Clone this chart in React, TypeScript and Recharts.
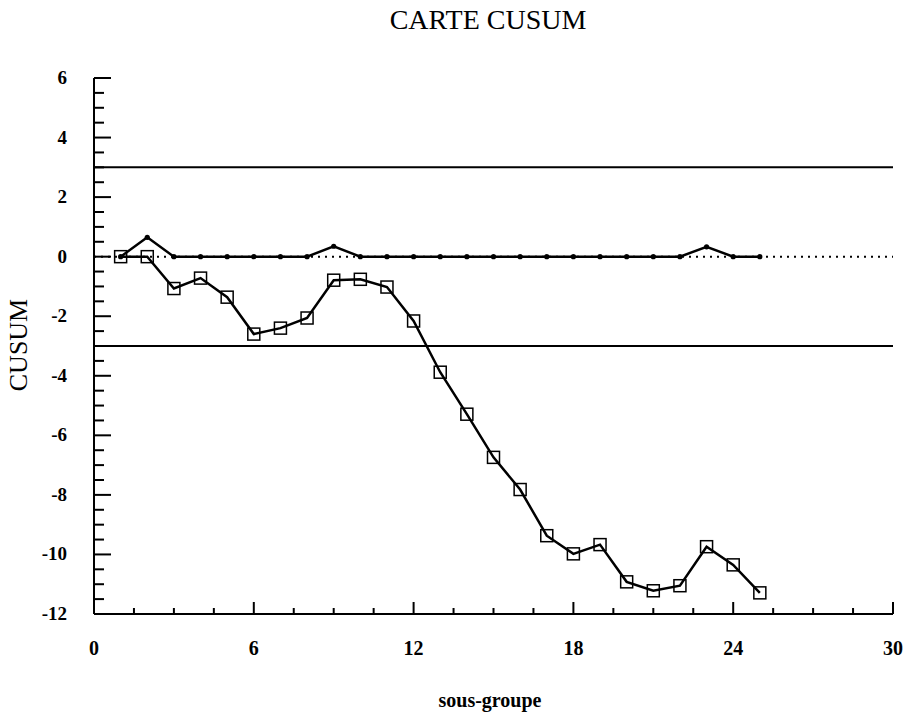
import React from 'react';
import { LineChart, Line, XAxis, YAxis, ReferenceLine } from 'recharts';

const subgroups = [1,2,3,4,5,6,7,8,9,10,11,12,13,14,15,16,17,18,19,20,21,22,23,24,25];
const cusumHigh = [0,0.65,0,0,0,0,0,0,0.35,0,0,0,0,0,0,0,0,0,0,0,0,0,0.33,0,0];
const cusumLow = [0,0,-1.07,-0.72,-1.36,-2.6,-2.4,-2.06,-0.79,-0.76,-1.02,-2.16,-3.88,-5.29,-6.74,-7.82,-9.37,-9.98,-9.67,-10.92,-11.22,-11.05,-9.74,-10.35,-11.29];
const xTicks = [0,1.5,3,4.5,6,7.5,9,10.5,12,13.5,15,16.5,18,19.5,21,22.5,24,25.5,27,28.5,30];
const xLabels = [0,6,12,18,24,30];
const yTicks: number[] = [];
for (let i = 0; i <= 36; i++) yTicks.push(-12 + i * 0.5);
const yLabels = [6,4,2,0,-2,-4,-6,-8,-10,-12];
const upperLimit = 3;
const lowerLimit = -3;

const data = subgroups.map((s, i) => ({ x: s, high: cusumHigh[i], low: cusumLow[i] }));

const FONT = '"Liberation Serif", "Times New Roman", serif';

const YTick = (props: any) => {
  const { x, y, payload } = props;
  const v = payload.value;
  const major = yLabels.includes(v);
  return (
    <g>
      <line x1={x} x2={x + (major ? 17 : 10)} y1={y} y2={y} stroke="#000" strokeWidth={2} />
      {major && (
        <text x={x - 27} y={y + 6} textAnchor="end" fontFamily={FONT} fontWeight="bold" fontSize={19} fill="#000">
          {v}
        </text>
      )}
    </g>
  );
};

const XTick = (props: any) => {
  const { x, y, payload } = props;
  const v = payload.value;
  const major = xLabels.includes(v);
  return (
    <g>
      {v !== 0 && (
        <line x1={x} x2={x} y1={y} y2={y - (major ? 12 : 6)} stroke="#000" strokeWidth={2} />
      )}
      {major && (
        <text x={x} y={y + 41} textAnchor="middle" fontFamily={FONT} fontWeight="bold" fontSize={20} fill="#000">
          {v}
        </text>
      )}
    </g>
  );
};

const SquareDot = (props: any) => {
  const { cx, cy, index } = props;
  return <rect key={`sq-${index}`} x={cx - 6} y={cy - 6} width={12} height={12} fill="none" stroke="#000" strokeWidth={1.5} />;
};

const SmallDot = (props: any) => {
  const { cx, cy, index } = props;
  return <circle key={`dt-${index}`} cx={cx} cy={cy} r={2.6} fill="#000" stroke="none" />;
};

export default function App() {
  return (
    <div style={{ position: 'absolute', left: 0, top: 0, width: 908, height: 715, background: '#fff' }}>
      <LineChart
        width={908}
        height={715}
        data={data}
        margin={{ top: 78, right: 15, bottom: 71, left: 34 }}
      >
        <XAxis
          type="number"
          dataKey="x"
          domain={[0, 30]}
          ticks={xTicks}
          interval={0}
          height={30}
          tickSize={0}
          tickMargin={0}
          tickLine={false}
          axisLine={{ stroke: '#000', strokeWidth: 2 }}
          tick={XTick}
        />
        <YAxis
          type="number"
          domain={[-12, 6]}
          ticks={yTicks}
          interval={0}
          width={60}
          tickSize={0}
          tickMargin={0}
          tickLine={false}
          axisLine={{ stroke: '#000', strokeWidth: 2 }}
          tick={YTick}
        />
        <ReferenceLine y={upperLimit} stroke="#000" strokeWidth={2} />
        <ReferenceLine y={lowerLimit} stroke="#000" strokeWidth={2} />
        <ReferenceLine y={0} stroke="#000" strokeWidth={2} strokeDasharray="2 5" />
        <Line
          type="linear"
          dataKey="low"
          stroke="#000"
          strokeWidth={2.5}
          dot={SquareDot}
          activeDot={false}
          isAnimationActive={false}
        />
        <Line
          type="linear"
          dataKey="high"
          stroke="#000"
          strokeWidth={2.5}
          dot={SmallDot}
          activeDot={false}
          isAnimationActive={false}
        />
      </LineChart>
      <svg width={908} height={715} style={{ position: 'absolute', left: 0, top: 0, pointerEvents: 'none' }}>
        <text x={488} y={29} textAnchor="middle" fontFamily={FONT} fontSize={28} fill="#000">CARTE CUSUM</text>
        <text x={27} y={345} textAnchor="middle" fontFamily={FONT} fontSize={26} fill="#000" transform="rotate(-90 27 345)">CUSUM</text>
        <text x={490} y={707} textAnchor="middle" fontFamily={FONT} fontWeight="bold" fontSize={20} fill="#000">sous-groupe</text>
      </svg>
    </div>
  );
}
